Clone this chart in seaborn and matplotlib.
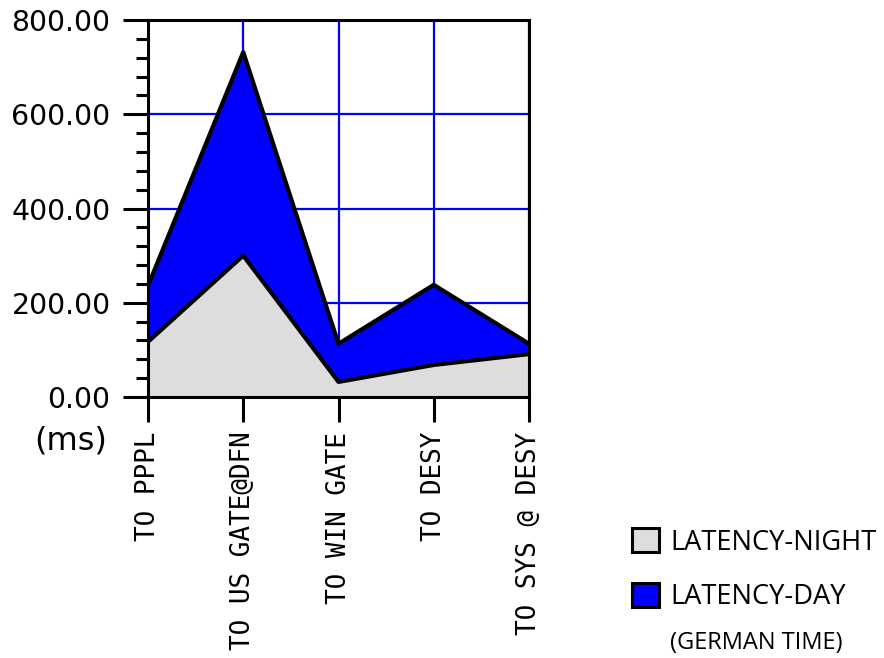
import numpy as np
import pandas as pd
import matplotlib
matplotlib.use("Agg")
import matplotlib.pyplot as plt
import seaborn as sns
from matplotlib.patches import Patch
from matplotlib.ticker import MultipleLocator, FormatStrFormatter

categories = ["TO PPPL", "TO US GATE@DFN", "TO WIN GATE", "TO DESY", "TO SYS @ DESY"]
latency_day = [236, 732, 113, 238, 113]
latency_night = [117, 300, 32, 68, 91]
yticks = [0, 200, 400, 600, 800]
series_names = ["LATENCY-NIGHT", "LATENCY-DAY"]

sns.set_theme(style="white")
plt.rcParams['font.family'] = ['DejaVu Sans']
plt.rcParams['text.color'] = 'black'

df = pd.DataFrame({"pos": np.arange(len(categories)),
                   "day": latency_day, "night": latency_night})

fig = plt.figure(figsize=(8.84, 6.58), dpi=100)
ax = fig.add_axes([148/884, 1-397/658, 381/884, 377/658])

ax.fill_between(df["pos"], df["day"], color="#0000ff", lw=0, zorder=2)
ax.fill_between(df["pos"], df["night"], color="#dddddd", lw=0, zorder=3)
sns.lineplot(data=df, x="pos", y="day", color="black", lw=3.0, ax=ax, zorder=4)
sns.lineplot(data=df, x="pos", y="night", color="black", lw=3.0, ax=ax, zorder=4)

ax.set_xlim(0, len(categories)-1)
ax.set_ylim(0, 800)
ax.set_xticks(df["pos"])
ax.set_xticklabels(categories, rotation=90, family="DejaVu Sans Mono",
                   fontsize=18.7, va="top", ha="center")
ax.set_yticks(yticks)
ax.yaxis.set_major_formatter(FormatStrFormatter("%.2f"))
ax.yaxis.set_minor_locator(MultipleLocator(40))
ax.tick_params(axis="y", which="major", length=18, width=2.2, labelsize=20.4,
               pad=9, color="black", left=True, labelcolor="black")
ax.tick_params(axis="y", which="minor", length=9, width=2.2, left=True, color="black")
ax.tick_params(axis="x", which="major", length=18, width=2.2, pad=7,
               bottom=True, color="black", labelcolor="black")
ax.set_xlabel("")
ax.set_ylabel("")

ax.grid(True, color="#0000ff", lw=1.6, zorder=1)
ax.set_axisbelow(True)
for s in ax.spines.values():
    s.set_visible(True)
    s.set_color("black")
    s.set_linewidth(2.2)
    s.set_zorder(5)

fig.text(71/884, 1-441/658, "(ms)", fontsize=23, ha="center", va="center",
         color="black")

handles = [Patch(facecolor="#dddddd", edgecolor="black", lw=2.2),
           Patch(facecolor="#0000ff", edgecolor="black", lw=2.2)]
leg = fig.legend(handles, series_names, loc="upper left",
                 bbox_to_anchor=(632/884, 1-528/658), frameon=False,
                 prop={"family": "Open Sans", "size": 19.6},
                 handlelength=1.0, handleheight=1.0, handletextpad=0.4,
                 labelspacing=0.97, borderpad=0, borderaxespad=0)
for t in leg.get_texts():
    t.set_color("black")
fig.text(756/884, 1-643/658, "(GERMAN TIME)", fontsize=17, family="Open Sans",
         ha="center", va="center", color="black")

fig.savefig("out.png", dpi=100)
